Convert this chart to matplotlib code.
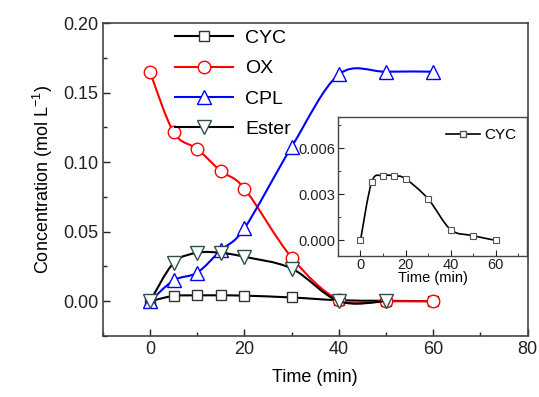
import numpy as np
import matplotlib
matplotlib.use("Agg")
import matplotlib.pyplot as plt
from matplotlib.path import Path
from matplotlib.patches import PathPatch
from matplotlib.lines import Line2D
from matplotlib.ticker import MultipleLocator

plt.rcParams['font.family'] = ['Liberation Sans', 'DejaVu Sans']

# data (time in min, concentration in mol/L)
time = [0, 5, 10, 15, 20, 30, 40, 50, 60]
cyc = [0.0, 0.0038, 0.0042, 0.0042, 0.0040, 0.0027, 0.0007, 0.0003, 0.0]
ox = [0.1645, 0.1214, 0.1094, 0.0935, 0.081, 0.0314, 0.001, 0.0, 0.0]
cpl = [0.0, 0.015, 0.0206, 0.0367, 0.0525, 0.111, 0.163, 0.165, 0.165]
ester_time = [0, 5, 10, 15, 20, 30, 40, 50]
ester = [0.0, 0.0276, 0.0348, 0.0348, 0.0319, 0.0235, 0.0, 0.0]


def smooth_path(x, y):
    # Catmull-Rom spline through the points, as cubic bezier segments
    p = np.column_stack([x, y]).astype(float)
    ext = np.vstack([p[0], p, p[-1]])
    verts = [p[0]]
    codes = [Path.MOVETO]
    for i in range(len(p) - 1):
        p0, p1, p2, p3 = ext[i], ext[i + 1], ext[i + 2], ext[i + 3]
        verts += [p1 + (p2 - p0) / 6, p2 - (p3 - p1) / 6, p2]
        codes += [Path.CURVE4] * 3
    return Path(verts, codes)


def draw(ax, x, y, color, marker, ms, lw, mec=None, z=2):
    ax.add_patch(PathPatch(smooth_path(x, y), fill=False, edgecolor=color,
                           lw=lw, zorder=z, capstyle='round'))
    ax.plot(x, y, ls='none', marker=marker, ms=ms, mfc='white',
            mec=mec or color, mew=1.0, zorder=z + 0.5)


fig = plt.figure(figsize=(5.39, 3.97), dpi=100)
ax = fig.add_axes([0.191, 0.1537, 0.7877, 0.7883])

draw(ax, time, cyc, 'black', 's', 7.5, 1.5, mec='#333333', z=2)
draw(ax, time, ox, 'red', 'o', 9, 1.5, z=3)
draw(ax, time, cpl, 'blue', '^', 10, 1.5, z=4)
draw(ax, ester_time, ester, 'black', 'v', 10, 1.5, mec='#2f4f4f', z=5)

ax.set_xlim(-10, 80)
ax.set_ylim(-0.025, 0.2)
ax.xaxis.set_major_locator(MultipleLocator(20))
ax.xaxis.set_minor_locator(MultipleLocator(10))
ax.yaxis.set_major_locator(MultipleLocator(0.05))
ax.yaxis.set_minor_locator(MultipleLocator(0.025))
ax.yaxis.set_major_formatter(plt.FormatStrFormatter('%.2f'))
ax.tick_params(which='both', direction='in', labelsize=13, colors='#222222')
ax.tick_params(which='major', length=5, width=1)
ax.tick_params(which='minor', length=3, width=1)
for s in ax.spines.values():
    s.set_color('#444444')
    s.set_linewidth(1.2)
ax.set_xlabel('Time (min)', fontsize=13, labelpad=8)
ax.set_ylabel('Concentration (mol L$^{\\mathregular{-1}}$)', fontsize=13, labelpad=6)

handles = [
    Line2D([], [], color='black', marker='s', ms=7.5, mfc='white', mec='#333333', lw=1.5),
    Line2D([], [], color='red', marker='o', ms=9, mfc='white', lw=1.5),
    Line2D([], [], color='blue', marker='^', ms=10, mfc='white', lw=1.5),
    Line2D([], [], color='black', marker='v', ms=10, mfc='white', mec='#2f4f4f', lw=1.5),
]
ax.legend(handles, ['CYC', 'OX', 'CPL', 'Ester'], loc='upper left',
          bbox_to_anchor=(0.17, 0.98), frameon=False, fontsize=14,
          handlelength=3.0, handletextpad=0.6, labelspacing=0.66,
          borderpad=0, borderaxespad=0)

# inset with CYC only
ins = fig.add_axes([0.627, 0.356, 0.351, 0.3485])
ins.add_patch(PathPatch(smooth_path(time, cyc), fill=False, edgecolor='black', lw=1.2))
ins.plot(time, cyc, ls='none', marker='s', ms=4.5, mfc='white', mec='#555555', mew=0.8)
ins.set_xlim(-10, 74)
ins.set_ylim(-0.001, 0.008)
ins.xaxis.set_major_locator(MultipleLocator(20))
ins.xaxis.set_minor_locator(MultipleLocator(10))
ins.yaxis.set_major_locator(MultipleLocator(0.003))
ins.yaxis.set_minor_locator(MultipleLocator(0.0015))
ins.yaxis.set_major_formatter(plt.FormatStrFormatter('%.3f'))
ins.tick_params(which='both', direction='in', labelsize=10.5, colors='#222222', pad=2)
ins.tick_params(which='major', length=4)
ins.tick_params(which='minor', length=2)
for s in ins.spines.values():
    s.set_color('#444444')
    s.set_linewidth(1.0)
ins.set_xlabel('Time (min)', fontsize=10.5, labelpad=-1)
ins.legend([Line2D([], [], color='black', marker='s', ms=4.5, mfc='white', mec='#555555', lw=1.2)],
           ['CYC'], loc='upper right', frameon=False, fontsize=11,
           handlelength=2.2, handletextpad=0.3, borderaxespad=0.3)

fig.savefig('out.png', dpi=100)
